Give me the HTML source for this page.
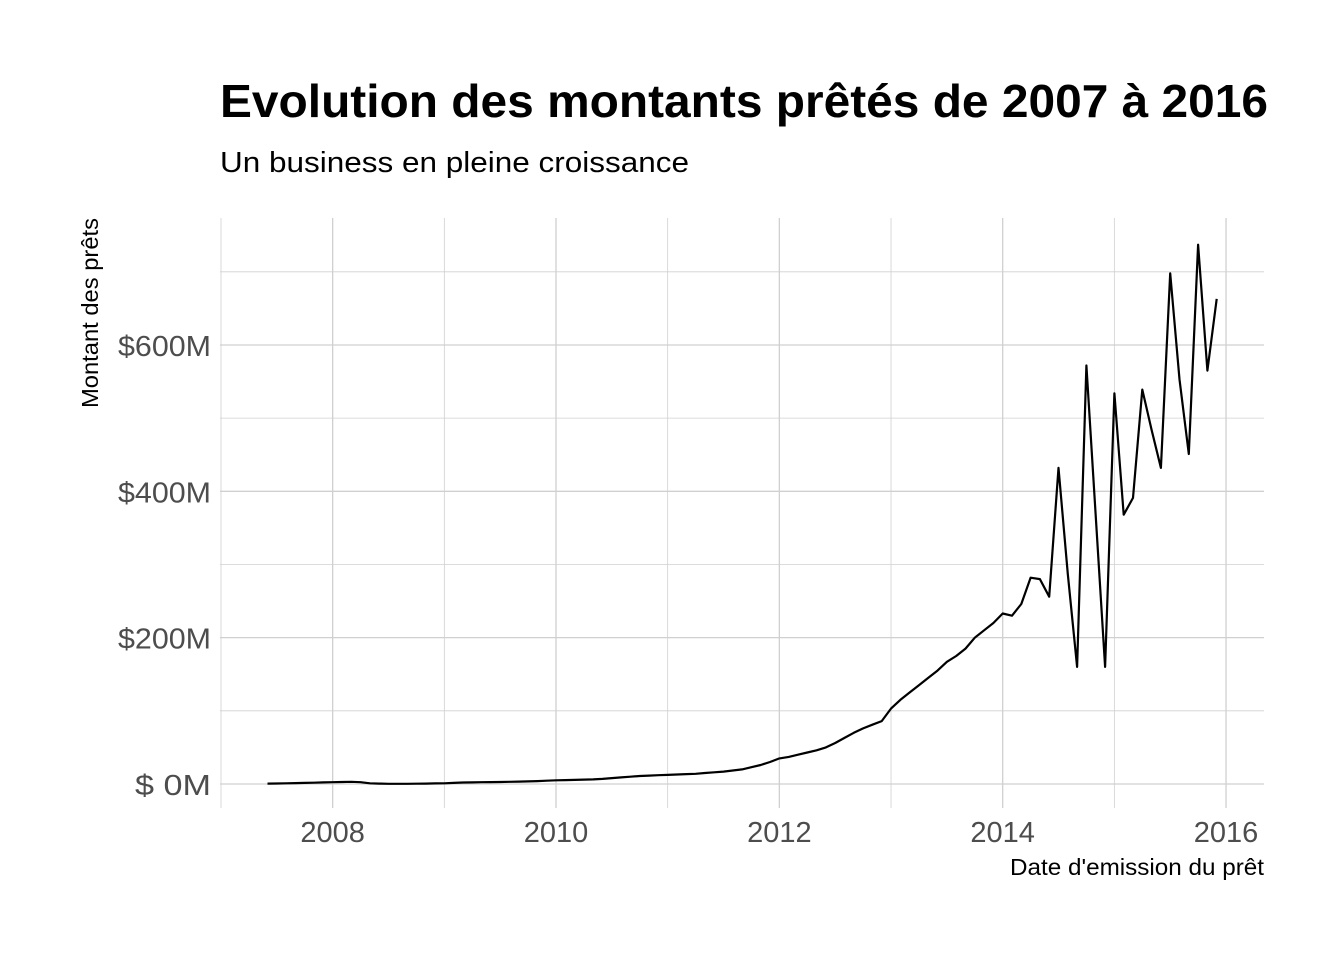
<!DOCTYPE html>
<html><head><meta charset="utf-8"><style>
body{margin:0;background:#fff;}
svg{display:block;font-family:"Liberation Sans",Arial,sans-serif;}
</style></head><body>
<svg id="chart" width="1344" height="960">
<text x="220" y="117" font-size="46" font-weight="bold" fill="#000" textLength="1048" lengthAdjust="spacingAndGlyphs">Evolution des montants prêtés de 2007 à 2016</text>
<text x="220" y="172" font-size="29" fill="#000" textLength="469" lengthAdjust="spacingAndGlyphs">Un business en pleine croissance</text>
<g id="grid"></g>
<g id="yticks"></g>
<g id="xticks"></g>
<path id="line" fill="none" stroke="#000" stroke-width="2.2" stroke-linejoin="round"></path>
<text x="1264" y="875" font-size="23" text-anchor="end" fill="#000" textLength="254" lengthAdjust="spacingAndGlyphs">Date d'emission du prêt</text>
<text transform="translate(98,313) rotate(-90)" font-size="23" text-anchor="middle" fill="#000" textLength="190" lengthAdjust="spacingAndGlyphs">Montant des prêts</text>
</svg>
<script>
const startYear = 2007, startMonth = 6;
const amounts = [
0.5,0.7,1,1.2,1.5,1.8,2.2,
2.5,2.8,3,2.5,1,0.5,0.3,0.3,0.3,0.4,0.6,0.8,
1,1.5,2,2.2,2.4,2.6,2.8,3,3.3,3.6,4,4.5,
5,5.3,5.6,6,6.3,7,8,9,10,11,11.5,12,
12.5,13,13.5,14,15,16,17,18.5,20,23,26,30,
35,37,40,43,46,50,56,63,70,76,81,86,
103,115,125,135,145,155,167,175,185,200,210,220,
233,230,246,282,280,256,432,287,160,572,367,160,
534,368,391,539,484,432,698,553,451,737,565,663];
const yTicks = [0,200,400,600];
const yTickLabels = ["$   0M","$200M","$400M","$600M"];
const xTicks = [2008,2010,2012,2014,2016];
const ns="http://www.w3.org/2000/svg";
const X0=221, XS=111.67, Y0=784, YS=0.7317;
const L=220,R=1264,T=218,B=808;
const xs=t=>X0+(t-2007)*XS, ys=v=>Y0-v*YS;
const grid=document.getElementById('grid');
function ln(x1,y1,x2,y2,w){const l=document.createElementNS(ns,'line');l.setAttribute('x1',x1);l.setAttribute('y1',y1);l.setAttribute('x2',x2);l.setAttribute('y2',y2);l.setAttribute('stroke','#d0d0d0');l.setAttribute('stroke-width',w);


grid.appendChild(l);}
for(let v=0;v<=700;v+=100) ln(L,ys(v),R,ys(v),v%200===0?1.3:0.8);
for(let y=2007;y<=2016;y++) ln(xs(y),T,xs(y),B,y%2===0?1.3:0.8);
const yg=document.getElementById('yticks');
yTicks.forEach((v,i)=>{const t=document.createElementNS(ns,'text');t.setAttribute('x',211);t.setAttribute('y',ys(v)+11);t.setAttribute('text-anchor','end');t.setAttribute('font-size','29');t.setAttribute('fill','#4d4d4d');t.setAttribute('xml:space','preserve');t.setAttribute('textLength',i===0?76:93);t.setAttribute('lengthAdjust','spacingAndGlyphs');t.textContent=yTickLabels[i];


yg.appendChild(t);});
const xg=document.getElementById('xticks');
xTicks.forEach(y=>{const t=document.createElementNS(ns,'text');t.setAttribute('x',xs(y));t.setAttribute('y',842);t.setAttribute('text-anchor','middle');t.setAttribute('font-size','29');t.setAttribute('fill','#4d4d4d');t.textContent=y;


xg.appendChild(t);});
let d='';
amounts.forEach((v,i)=>{const t=startYear+(startMonth-1+i)/12;d+=(i?'L':'M')+xs(t).toFixed(1)+','+ys(v).toFixed(1);});
document.getElementById('line').setAttribute('d',d);
</script>
</body></html>
